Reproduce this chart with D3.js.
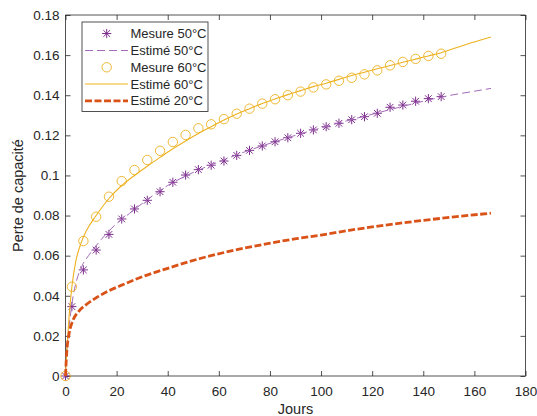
<!DOCTYPE html>
<html><head><meta charset="utf-8">
<script src="https://cdn.jsdelivr.net/npm/d3@7"></script>
<style>
html,body{margin:0;padding:0;background:#fff;}
svg{display:block;font-family:"Liberation Sans",Arial,sans-serif;}
</style></head>
<body><svg id="c" width="537" height="416"></svg>
<script>
// ---- data ----
const measDays = [0, 2.5, 7, 12, 17, 22, 27, 32, 37, 42, 47, 52, 57, 62, 67, 72, 77, 82, 87, 92, 97, 102, 107, 112, 117, 122, 127, 132, 137, 142, 147];
const mes50 = [0, 0.0346, 0.0529, 0.0628, 0.0706, 0.0783, 0.0833, 0.0876, 0.0919, 0.0966, 0.1002, 0.1029, 0.1051, 0.1072, 0.1100, 0.1125, 0.1147, 0.1168, 0.1188, 0.1210, 0.1227, 0.1243, 0.1260, 0.1278, 0.1293, 0.1310, 0.1340, 0.1351, 0.1370, 0.1383, 0.1393];
const mes60 = [0, 0.0445, 0.0673, 0.0794, 0.0894, 0.0972, 0.1027, 0.1077, 0.1123, 0.1167, 0.1202, 0.1235, 0.1255, 0.1281, 0.1308, 0.1333, 0.1358, 0.1380, 0.1400, 0.1418, 0.1439, 0.1454, 0.1472, 0.1487, 0.1504, 0.1524, 0.1549, 0.1566, 0.1581, 0.1596, 0.1607];

const est50Days = [0, 0.4, 1, 2, 3, 4, 6.5, 9, 12, 16, 20, 25, 30, 40, 50, 60, 70, 80, 90, 100, 110, 120, 130, 140, 150, 160, 166.5];
const est50 = [0, 0.010, 0.020, 0.031, 0.040, 0.046, 0.055, 0.060, 0.065, 0.071, 0.076, 0.081, 0.0860, 0.0950, 0.1015, 0.1068, 0.1117, 0.1160, 0.1200, 0.1237, 0.1272, 0.1305, 0.1338, 0.1370, 0.1398, 0.1420, 0.1434];

const est60Days = [0, 0.4, 0.8, 1.4, 2.5, 4, 6, 8, 12, 17, 22, 27, 32, 37, 42, 47, 52, 57, 62, 67, 72, 77, 82, 87, 92, 97, 102, 107, 112, 117, 122, 127, 132, 137, 142, 147, 157, 166.5];
const est60 = [0, 0.011, 0.018, 0.0296, 0.0445, 0.057, 0.066, 0.072, 0.080, 0.0885, 0.0950, 0.1000, 0.1046, 0.1090, 0.1133, 0.1172, 0.1209, 0.1243, 0.1276, 0.1306, 0.1333, 0.1359, 0.1381, 0.1403, 0.1423, 0.1443, 0.1460, 0.1479, 0.1498, 0.1515, 0.1532, 0.1548, 0.1564, 0.1580, 0.1596, 0.1612, 0.1654, 0.1690];

const est20Days = [0, 0.3, 0.7, 1.4, 3, 5, 8, 12, 17, 22, 29, 40, 53, 66, 79, 91, 100, 111, 125, 140, 155, 166.5];
const est20 = [0, 0.008, 0.015, 0.021, 0.028, 0.032, 0.0355, 0.039, 0.0425, 0.0453, 0.0490, 0.0537, 0.0587, 0.0627, 0.0660, 0.0686, 0.0703, 0.0726, 0.0752, 0.0776, 0.0797, 0.0812];

const xTicks = [0, 20, 40, 60, 80, 100, 120, 140, 160, 180];
const yTicks = [0, 0.02, 0.04, 0.06, 0.08, 0.1, 0.12, 0.14, 0.16, 0.18];
const legendLabels = ["Mesure 50°C", "Estimé 50°C", "Mesure 60°C", "Estimé 60°C", "Estimé 20°C"];
const xLabel = "Jours", yLabel = "Perte de capacité";

// ---- drawing ----
const L = 65.5, R = 525.5, T = 15, B = 376;
const svg = d3.select("#c");
const x = d3.scaleLinear().domain([0, 180]).range([L, R]);
const y = d3.scaleLinear().domain([0, 0.18]).range([B, T]);
const axCol = "#262626";
const purple = "#7E2F8E", purpleL = "#A46BB8", yellow = "#EDB120", orange = "#D95319";

const tl = 5;
const fmtY = d => d === 0 ? "0" : String(+d.toFixed(2));
const gB = svg.append("g").attr("transform", `translate(0,${B})`)
  .call(d3.axisBottom(x).tickValues(xTicks).tickSize(-tl).tickPadding(10).tickFormat(d3.format("d")));
const gT = svg.append("g").attr("transform", `translate(0,${T})`)
  .call(d3.axisTop(x).tickValues(xTicks).tickSize(-tl).tickFormat(""));
const gL = svg.append("g").attr("transform", `translate(${L},0)`)
  .call(d3.axisLeft(y).tickValues(yTicks).tickSize(-tl).tickPadding(6).tickFormat(fmtY));
const gR = svg.append("g").attr("transform", `translate(${R},0)`)
  .call(d3.axisRight(y).tickValues(yTicks).tickSize(-tl).tickFormat(""));
[gB, gT, gL, gR].forEach(g => {
  g.select(".domain").attr("stroke", axCol).attr("stroke-width", 0.8);
  g.selectAll(".tick line").attr("stroke", axCol).attr("stroke-width", 0.8);
  g.selectAll("text").attr("fill", axCol).style("font-size", "13.5px").style("font-family", "Liberation Sans, Arial, sans-serif");
});
gB.select(".domain").attr("d", `M${L},0H${R}`);
gT.select(".domain").attr("d", `M${L},0H${R}`);
gL.select(".domain").attr("d", `M0,${B}V${T}`);
gR.select(".domain").attr("d", `M0,${B}V${T}`);

const plot = svg.append("g");
const line = (days, vals) => d3.line().curve(d3.curveMonotoneX)
  .x((d, i) => x(days[i])).y(d => y(d))(vals);

function star(g, cx, cy, col) {
  const s = 4.6, d = s * 0.72;
  g.append("path").attr("d", `M${cx - s},${cy}H${cx + s}M${cx},${cy - s}V${cy + s}M${cx - d},${cy - d}L${cx + d},${cy + d}M${cx - d},${cy + d}L${cx + d},${cy - d}`)
    .attr("stroke", col).attr("stroke-width", 1).attr("fill", "none");
}
const gs = plot.append("g");
mes50.forEach((v, i) => star(gs, x(measDays[i]), y(v), purple));

plot.append("path").attr("d", line(est50Days, est50)).attr("fill", "none")
  .attr("stroke", purpleL).attr("stroke-width", 1).attr("stroke-dasharray", "8,4");

plot.append("g").selectAll("circle").data(mes60).join("circle")
  .attr("cx", (d, i) => x(measDays[i])).attr("cy", d => y(d)).attr("r", 4.7)
  .attr("fill", "none").attr("stroke", yellow).attr("stroke-width", 0.9);

plot.append("path").attr("d", line(est60Days, est60)).attr("fill", "none")
  .attr("stroke", yellow).attr("stroke-width", 1.1);

plot.append("path").attr("d", line(est20Days, est20)).attr("fill", "none")
  .attr("stroke", orange).attr("stroke-width", 2.8).attr("stroke-dasharray", "7,2.5");

svg.append("text").attr("x", (L + R) / 2).attr("y", 414).attr("text-anchor", "middle")
  .attr("fill", axCol).style("font-size", "14.5px").text(xLabel);
svg.append("text").attr("transform", `translate(23,${(T + B) / 2}) rotate(-90)`).attr("text-anchor", "middle")
  .attr("fill", axCol).style("font-size", "14.5px").text(yLabel);

const lg = svg.append("g");
lg.append("rect").attr("x", 82).attr("y", 22).attr("width", 126).attr("height", 89.5)
  .attr("fill", "#fff").attr("stroke", axCol).attr("stroke-width", 0.8);
const rowsY = [33.5, 50.5, 67.3, 84, 100.8];
legendLabels.forEach((t, i) => {
  const yy = rowsY[i];
  if (i === 0) star(lg, 106.7, yy, purple);
  if (i === 1) lg.append("line").attr("x1", 85).attr("x2", 128).attr("y1", yy).attr("y2", yy)
      .attr("stroke", purpleL).attr("stroke-width", 1).attr("stroke-dasharray", "8,4");
  if (i === 2) lg.append("circle").attr("cx", 106.7).attr("cy", yy).attr("r", 4.7)
      .attr("fill", "none").attr("stroke", yellow).attr("stroke-width", 0.9);
  if (i === 3) lg.append("line").attr("x1", 85).attr("x2", 128).attr("y1", yy).attr("y2", yy)
      .attr("stroke", yellow).attr("stroke-width", 1.1);
  if (i === 4) lg.append("line").attr("x1", 85).attr("x2", 128).attr("y1", yy).attr("y2", yy)
      .attr("stroke", orange).attr("stroke-width", 2.8).attr("stroke-dasharray", "7,2.5");
  lg.append("text").attr("x", 130.5).attr("y", yy).attr("dy", "0.36em")
    .attr("fill", axCol).style("font-size", "13px").text(t);
});
</script></body></html>
